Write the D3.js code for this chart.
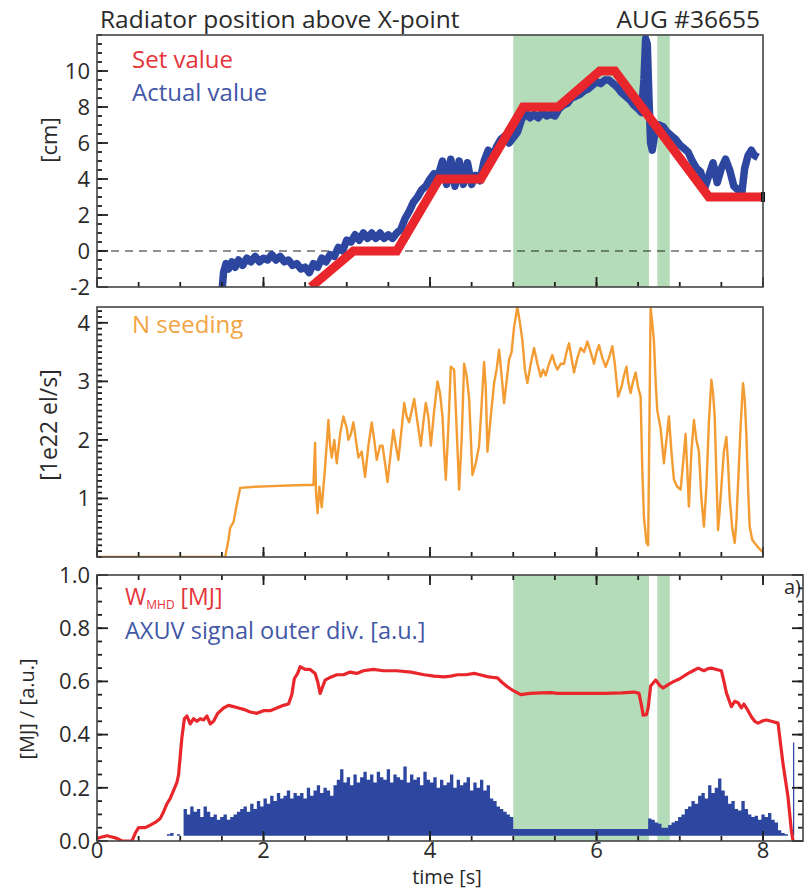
<!DOCTYPE html>
<meta charset="utf-8">

<!-- Load d3.js -->
<script src="https://d3js.org/d3.v7.min.js"></script>

<style>
  body { margin: 0; background: #fff; }
  text { font-family: "Open Sans", sans-serif; }
</style>

<!-- Create a div where the graph will take place -->
<div id="my_dataviz"></div>

<script>

// shaded time windows [start, end] in s
var bandStart = [5.0, 6.73];
var bandEnd = [6.63, 6.88];

// radiator position set value [cm]
var setTime = [2.57, 3.08, 3.60, 4.11, 4.61, 5.12, 5.54, 6.04, 6.22, 7.35, 8.0];
var setValue = [-2, 0, 0, 4, 4, 8, 8, 10, 10, 3, 3];

// radiator position actual value [t, cm]
var actualValue = [
  [1.50,-2.3],[1.52,-1.2],[1.55,-0.7],[1.58,-1.0],[1.62,-0.6],[1.66,-0.9],[1.70,-0.5],[1.75,-0.8],
  [1.80,-0.4],[1.85,-0.6],[1.90,-0.3],[1.95,-0.6],[2.00,-0.4],[2.05,-0.5],[2.10,-0.2],[2.15,-0.5],
  [2.20,-0.3],[2.25,-0.6],[2.30,-0.5],[2.35,-0.8],[2.40,-0.7],[2.45,-1.0],[2.50,-0.9],[2.55,-1.2],
  [2.60,-0.7],[2.65,-0.9],[2.70,-0.4],[2.75,-0.6],[2.80,-0.2],[2.85,-0.3],[2.90,0.2],[2.95,0.0],
  [3.00,0.6],[3.05,0.5],[3.10,0.9],[3.15,0.6],[3.20,1.0],[3.25,0.7],[3.30,1.0],[3.35,0.7],
  [3.40,1.0],[3.45,0.7],[3.50,0.9],[3.55,0.7],[3.60,1.0],[3.65,1.2],[3.70,1.8],[3.75,2.2],
  [3.80,2.7],[3.85,3.0],[3.90,3.4],[3.95,3.6],[4.00,4.0],[4.05,4.3],[4.10,4.2],[4.15,5.0],
  [4.20,3.7],[4.25,5.1],[4.30,3.6],[4.35,5.0],[4.40,3.7],[4.45,4.9],[4.50,3.7],[4.55,4.2],
  [4.60,3.9],[4.65,5.0],[4.70,5.6],[4.75,5.2],[4.80,5.8],[4.85,6.2],[4.90,6.4],[4.95,6.0],
  [5.00,6.3],[5.05,6.6],[5.10,7.3],[5.15,7.7],[5.20,7.4],[5.25,7.6],[5.30,7.4],[5.35,7.7],
  [5.40,7.5],[5.45,7.6],[5.50,7.5],[5.55,7.9],[5.60,8.1],[5.65,8.2],[5.70,8.5],[5.75,8.6],
  [5.80,8.7],[5.85,8.9],[5.90,9.0],[5.95,9.2],[6.00,9.4],[6.05,9.3],[6.10,9.5],[6.15,9.5],
  [6.20,9.3],[6.25,9.1],[6.30,8.8],[6.35,8.6],[6.40,8.4],[6.45,8.1],[6.50,7.9],[6.54,7.7],
  [6.57,9.5],[6.59,11.8],[6.61,11.5],[6.63,8.5],[6.65,6.0],[6.67,5.6],[6.70,6.5],[6.75,7.0],
  [6.80,6.9],[6.85,6.6],[6.90,6.4],[6.95,6.2],[7.00,5.9],[7.05,5.7],[7.10,5.5],[7.15,5.0],
  [7.20,4.6],[7.25,4.4],[7.30,3.5],[7.35,4.2],[7.40,4.9],[7.45,3.8],[7.50,4.6],[7.55,5.1],
  [7.60,4.5],[7.65,3.6],[7.70,3.4],[7.74,3.0],[7.78,4.6],[7.82,5.3],[7.86,5.6],[7.90,5.3],[7.94,5.2]
];

// N seeding rate [t, 1e22 el/s]
var nSeeding = [
  [0,0],[1.54,0],[1.58,0.3],[1.60,0.5],[1.64,0.6],[1.68,0.9],[1.72,1.18],[1.90,1.2],[2.10,1.21],
  [2.30,1.22],[2.50,1.23],[2.60,1.23],[2.61,1.6],[2.62,1.95],[2.63,1.1],[2.65,0.75],[2.67,1.2],
  [2.70,0.85],[2.74,1.54],[2.78,2.34],[2.80,1.9],[2.82,1.7],[2.85,2.0],[2.88,1.6],[2.92,2.1],
  [2.96,2.4],[3.00,2.2],[3.02,2.0],[3.05,2.1],[3.08,2.3],[3.11,2.0],[3.14,1.7],[3.18,1.8],
  [3.22,1.37],[3.26,1.9],[3.30,2.3],[3.33,2.0],[3.36,1.66],[3.40,1.9],[3.43,1.9],[3.46,1.6],
  [3.49,1.28],[3.53,1.8],[3.56,2.17],[3.59,1.9],[3.62,1.66],[3.66,2.2],[3.69,2.63],[3.72,2.4],
  [3.75,2.3],[3.78,2.5],[3.81,2.7],[3.85,2.3],[3.89,1.9],[3.92,2.3],[3.95,2.63],[3.98,2.4],
  [4.01,1.9],[4.05,2.5],[4.09,3.0],[4.12,2.8],[4.15,2.4],[4.17,1.8],[4.19,1.32],[4.22,2.2],
  [4.25,3.25],[4.29,3.2],[4.32,2.2],[4.35,1.15],[4.38,2.0],[4.41,3.3],[4.44,3.1],[4.47,2.7],
  [4.51,1.4],[4.55,1.6],[4.59,1.9],[4.62,2.6],[4.65,3.33],[4.67,2.9],[4.69,1.8],[4.73,2.4],
  [4.77,2.97],[4.80,3.2],[4.83,3.54],[4.86,3.1],[4.89,2.63],[4.92,3.0],[4.95,3.37],[4.98,3.5],
  [5.01,3.93],[5.05,4.27],[5.08,4.0],[5.11,3.7],[5.14,3.2],[5.17,2.97],[5.21,3.3],[5.25,3.57],
  [5.29,3.3],[5.33,3.08],[5.36,3.2],[5.39,3.1],[5.43,3.3],[5.47,3.45],[5.50,3.3],[5.53,3.2],
  [5.57,3.3],[5.61,3.3],[5.64,3.5],[5.67,3.65],[5.70,3.4],[5.73,3.15],[5.77,3.4],[5.81,3.57],
  [5.85,3.5],[5.89,3.68],[5.93,3.5],[5.97,3.3],[6.00,3.5],[6.03,3.62],[6.07,3.4],[6.11,3.25],
  [6.15,3.4],[6.19,3.6],[6.22,3.3],[6.26,2.74],[6.30,2.9],[6.33,3.1],[6.36,3.25],[6.38,3.0],
  [6.41,2.8],[6.44,3.0],[6.47,3.15],[6.50,2.9],[6.53,2.74],[6.55,1.5],[6.57,0.68],[6.60,0.25],
  [6.62,0.2],[6.63,1.5],[6.65,4.25],[6.67,4.0],[6.69,3.7],[6.71,3.0],[6.73,2.5],[6.77,2.2],
  [6.81,1.6],[6.84,2.0],[6.87,2.4],[6.90,1.8],[6.93,1.32],[6.97,1.2],[7.01,1.15],[7.04,1.6],
  [7.07,2.1],[7.09,1.5],[7.11,0.86],[7.14,1.8],[7.17,2.34],[7.20,2.0],[7.23,1.8],[7.26,1.0],
  [7.29,0.52],[7.32,1.2],[7.35,2.3],[7.38,3.03],[7.40,2.8],[7.42,2.4],[7.44,1.4],[7.46,0.46],
  [7.48,0.8],[7.50,1.2],[7.53,1.8],[7.56,2.05],[7.58,1.6],[7.60,1.0],[7.63,0.5],[7.66,0.24],
  [7.68,0.6],[7.70,1.23],[7.73,2.2],[7.76,2.97],[7.78,2.7],[7.80,2.1],[7.82,1.2],[7.84,0.52],
  [7.87,0.3],[7.90,0.24],[7.95,0.15],[8.0,0.08]
];

// stored energy W_MHD [t, MJ]
var wMHD = [
  [0,0.01],[0.06,0.015],[0.12,0.02],[0.18,0.015],[0.24,0.01],[0.30,0.0],[0.42,0.0],[0.46,0.03],
  [0.50,0.05],[0.58,0.05],[0.64,0.06],[0.70,0.07],[0.76,0.085],[0.80,0.11],[0.84,0.14],[0.88,0.16],
  [0.92,0.19],[0.96,0.22],[0.98,0.25],[1.00,0.32],[1.02,0.39],[1.05,0.46],[1.08,0.47],[1.12,0.44],
  [1.16,0.46],[1.20,0.45],[1.24,0.46],[1.28,0.455],[1.32,0.47],[1.36,0.44],[1.40,0.45],[1.45,0.48],
  [1.52,0.50],[1.58,0.51],[1.64,0.505],[1.70,0.50],[1.76,0.495],[1.84,0.485],[1.92,0.48],[2.00,0.49],
  [2.08,0.49],[2.16,0.50],[2.24,0.51],[2.30,0.515],[2.34,0.55],[2.37,0.61],[2.41,0.63],[2.44,0.655],
  [2.50,0.645],[2.56,0.645],[2.62,0.63],[2.65,0.60],[2.68,0.555],[2.71,0.58],[2.74,0.605],[2.80,0.615],
  [2.88,0.625],[2.96,0.625],[3.04,0.635],[3.12,0.63],[3.20,0.64],[3.32,0.645],[3.44,0.64],[3.60,0.64],
  [3.77,0.635],[3.93,0.625],[4.05,0.62],[4.17,0.617],[4.25,0.62],[4.33,0.625],[4.43,0.625],[4.53,0.63],
  [4.60,0.625],[4.69,0.618],[4.75,0.615],[4.81,0.613],[4.87,0.595],[4.93,0.58],[5.00,0.565],[5.09,0.55],
  [5.20,0.555],[5.33,0.557],[5.45,0.558],[5.53,0.555],[5.70,0.555],[5.93,0.555],[6.10,0.555],[6.30,0.557],
  [6.45,0.56],[6.51,0.555],[6.54,0.51],[6.56,0.473],[6.60,0.475],[6.62,0.50],[6.65,0.583],[6.71,0.605],
  [6.76,0.585],[6.80,0.575],[6.87,0.59],[6.93,0.60],[7.00,0.61],[7.10,0.63],[7.16,0.64],[7.22,0.65],
  [7.29,0.64],[7.34,0.648],[7.38,0.65],[7.44,0.645],[7.50,0.64],[7.53,0.60],[7.56,0.557],[7.62,0.505],
  [7.66,0.525],[7.70,0.52],[7.74,0.50],[7.77,0.515],[7.82,0.49],[7.86,0.467],[7.90,0.45],[7.94,0.443],
  [8.00,0.452],[8.04,0.455],[8.10,0.45],[8.18,0.443],[8.24,0.29],[8.30,0.165],[8.34,0.04],[8.36,0.0]
];

// AXUV outer divertor signal [t, a.u.]
var axuvBase = 0.02;
var axuv = [
  [0.80,0.02],[0.84,0.025],[0.88,0.03],[0.92,0.02],[0.96,0.025],[1.00,0.02],
  [1.04,0.12],[1.08,0.10],[1.12,0.13],[1.16,0.11],[1.20,0.12],[1.24,0.09],[1.28,0.13],[1.32,0.11],
  [1.36,0.09],[1.40,0.10],[1.44,0.08],[1.48,0.09],[1.52,0.10],[1.56,0.08],[1.60,0.09],[1.64,0.10],
  [1.68,0.11],[1.72,0.12],[1.76,0.13],[1.80,0.11],[1.84,0.14],[1.88,0.12],[1.92,0.15],[1.96,0.13],
  [2.00,0.16],[2.04,0.14],[2.08,0.17],[2.12,0.15],[2.16,0.18],[2.20,0.16],[2.24,0.17],[2.28,0.19],
  [2.32,0.16],[2.36,0.18],[2.40,0.17],[2.44,0.18],[2.48,0.16],[2.52,0.20],[2.56,0.17],[2.60,0.19],
  [2.64,0.21],[2.68,0.18],[2.72,0.20],[2.76,0.19],[2.80,0.17],[2.84,0.21],[2.88,0.23],[2.92,0.27],
  [2.96,0.22],[3.00,0.24],[3.04,0.21],[3.08,0.25],[3.12,0.22],[3.16,0.24],[3.20,0.26],[3.24,0.23],
  [3.28,0.25],[3.32,0.22],[3.36,0.26],[3.40,0.24],[3.44,0.23],[3.48,0.27],[3.52,0.22],[3.56,0.25],
  [3.60,0.24],[3.64,0.23],[3.68,0.28],[3.72,0.22],[3.76,0.25],[3.80,0.23],[3.84,0.24],[3.88,0.21],
  [3.92,0.26],[3.96,0.23],[4.00,0.22],[4.04,0.24],[4.08,0.20],[4.12,0.23],[4.16,0.21],[4.20,0.22],
  [4.24,0.25],[4.28,0.20],[4.32,0.23],[4.36,0.21],[4.40,0.22],[4.44,0.24],[4.48,0.19],[4.52,0.22],
  [4.56,0.20],[4.60,0.23],[4.64,0.19],[4.68,0.21],[4.72,0.16],[4.76,0.15],[4.80,0.13],[4.84,0.12],
  [4.88,0.11],[4.92,0.10],[4.96,0.09],[5.00,0.045],[5.60,0.045],[6.20,0.045],[6.60,0.045],
  [6.62,0.085],[6.66,0.08],[6.70,0.07],[6.74,0.065],[6.78,0.05],[6.82,0.05],[6.86,0.06],[6.90,0.07],
  [6.94,0.075],[6.98,0.09],[7.02,0.10],[7.06,0.12],[7.10,0.13],[7.14,0.15],[7.18,0.14],[7.22,0.17],
  [7.26,0.18],[7.30,0.16],[7.34,0.21],[7.38,0.18],[7.42,0.20],[7.46,0.235],[7.50,0.19],[7.54,0.17],
  [7.58,0.14],[7.62,0.15],[7.66,0.12],[7.70,0.115],[7.74,0.15],[7.78,0.12],[7.82,0.10],[7.86,0.09],
  [7.90,0.095],[7.94,0.08],[7.98,0.10],[8.02,0.09],[8.06,0.105],[8.10,0.08],[8.14,0.07],[8.18,0.04],
  [8.22,0.03],[8.26,0.025],[8.30,0.02],[8.36,0.37],[8.375,0.02],[8.40,0.02]
];

// tick labels
var timeTicks = [0, 2, 4, 6, 8];
var cmTicks = [-2, 0, 2, 4, 6, 8, 10];
var seedTicks = [1, 2, 3, 4];
var mjTicks = [0, 0.2, 0.4, 0.6, 0.8, 1.0];

// colours
var red = "#e8262b", blue = "#2d469f", orange = "#f39c33", green = "#b5dcb8", ink = "#2a2a2a";

// append the svg object to the body of the page
var svg = d3.select("#my_dataviz")
  .append("svg")
    .attr("width", 804)
    .attr("height", 890);

// X scales (bottom panel runs a bit longer)
var x = d3.scaleLinear().domain([0, 8]).range([97, 763]);
var xB = d3.scaleLinear().domain([0, 8.48]).range([97, 803]);

// Y scales
var yTop = d3.scaleLinear().domain([-2, 12]).range([287, 35]);
var yMid = d3.scaleLinear().domain([0, 4.27]).range([557, 307]);
var yBot = d3.scaleLinear().domain([0, 1]).range([841, 575]);

// clip paths for each panel
function clip(id, xs, ys) {
  svg.append("clipPath").attr("id", id)
    .append("rect")
      .attr("x", xs.range()[0]).attr("y", ys.range()[1])
      .attr("width", xs.range()[1] - xs.range()[0])
      .attr("height", ys.range()[0] - ys.range()[1]);
}
clip("cTop", x, yTop);
clip("cMid", x, yMid);
clip("cBot", xB, yBot);

// shaded windows
function bands(g, xs, ys) {
  g.selectAll(null)
    .data(bandStart)
    .enter()
    .append("rect")
      .attr("x", function(d) { return xs(d); })
      .attr("width", function(d, i) { return xs(bandEnd[i]) - xs(d); })
      .attr("y", ys.range()[1])
      .attr("height", ys.range()[0] - ys.range()[1])
      .attr("fill", green);
}

// layer for the tick marks of the current panel
var tickLayer;

// inward tick marks: side is "bottom", "top", "left" or "right"
function tickMarks(values, scale, side, pos, len) {
  var vertical = (side == "left" || side == "right");
  var dir = (side == "left" || side == "top") ? 1 : -1;
  tickLayer.append("g").selectAll("line")
    .data(values)
    .enter()
    .append("line")
      .attr("x1", function(d) { return vertical ? pos : scale(d); })
      .attr("x2", function(d) { return vertical ? pos + dir * len : scale(d); })
      .attr("y1", function(d) { return vertical ? scale(d) : pos; })
      .attr("y2", function(d) { return vertical ? scale(d) : pos + dir * len; })
      .attr("stroke", "#1e1e1e")
      .attr("stroke-width", 1.8);
}

function fmtInt(d) { return d < 0 ? "-" + Math.abs(d) : "" + d; }

function axes(xs, ys, yMajor, yMinorStep, fmt, opts) {
  var x0 = xs.range()[0], x1 = xs.range()[1], y0 = ys.range()[0], y1 = ys.range()[1];
  var xMinor = d3.range(0, xs.domain()[1] + 0.001, 0.5);
  var yMinor = d3.range(ys.domain()[0], ys.domain()[1] + 0.001, yMinorStep);

  tickLayer = svg.append("g").attr("class", "ticks");
  tickMarks(xMinor, xs, "bottom", y0, 5);
  tickMarks(timeTicks, xs, "bottom", y0, 10);
  tickMarks(yMinor, ys, "left", x0, 5);
  tickMarks(yMajor, ys, "left", x0, 11);
  if (opts.topTicks) {
    tickMarks(xMinor, xs, "top", y1, 5);
    tickMarks(timeTicks, xs, "top", y1, 10);
  }
  if (opts.rightTicks) {
    tickMarks(yMinor, ys, "right", x1, 5);
    tickMarks(yMajor, ys, "right", x1, 11);
  }

  // y tick labels
  svg.append("g").selectAll("text")
    .data(yMajor)
    .enter()
    .append("text")
      .attr("x", x0 - 7)
      .attr("y", function(d) { return ys(d); })
      .attr("dy", "0.35em")
      .attr("text-anchor", "end")
      .attr("fill", ink)
      .style("font-size", "22px")
      .text(fmt);

  if (opts.xLabels) {
    svg.append("g").selectAll("text")
      .data(timeTicks)
      .enter()
      .append("text")
        .attr("x", function(d) { return xs(d); })
        .attr("y", y0 + 17)
        .attr("text-anchor", "middle")
        .attr("fill", ink)
        .style("font-size", "22px")
        .text(fmtInt);
  }

  // frame
  svg.append("rect")
    .attr("x", x0).attr("y", y1)
    .attr("width", x1 - x0).attr("height", y0 - y1)
    .attr("fill", "none").attr("stroke", "#444").attr("stroke-width", 1.6);
}

// ---------------- top panel: radiator position ----------------
var gTop = svg.append("g").attr("clip-path", "url(#cTop)");
bands(gTop, x, yTop);

gTop.append("line")
  .attr("x1", x(0)).attr("x2", x(8))
  .attr("y1", yTop(0)).attr("y2", yTop(0))
  .attr("stroke", "#222").attr("stroke-width", 1.2)
  .attr("stroke-dasharray", "8,6");

gTop.append("path")
  .datum(actualValue)
  .attr("fill", "none")
  .attr("stroke", blue)
  .attr("stroke-width", 7.5)
  .attr("stroke-linejoin", "round")
  .attr("d", d3.line()
    .x(function(d) { return x(d[0]); })
    .y(function(d) { return yTop(d[1]); }));

gTop.append("path")
  .datum(setTime.map(function(t, i) { return [t, setValue[i]]; }))
  .attr("fill", "none")
  .attr("stroke", red)
  .attr("stroke-width", 9)
  .attr("d", d3.line()
    .x(function(d) { return x(d[0]); })
    .y(function(d) { return yTop(d[1]); }));

// small black end marker of the set value trace
svg.append("line")
  .attr("x1", x(8)).attr("x2", x(8))
  .attr("y1", yTop(setValue[setValue.length - 1]) - 5)
  .attr("y2", yTop(setValue[setValue.length - 1]) + 5)
  .attr("stroke", "#111").attr("stroke-width", 4);

axes(x, yTop, cmTicks, 0.5, fmtInt, {});

// ---------------- middle panel: N seeding ----------------
var gMid = svg.append("g").attr("clip-path", "url(#cMid)");
gMid.append("path")
  .datum(nSeeding)
  .attr("fill", "none")
  .attr("stroke", orange)
  .attr("stroke-width", 2.4)
  .attr("stroke-linejoin", "round")
  .attr("d", d3.line()
    .x(function(d) { return x(d[0]); })
    .y(function(d) { return yMid(d[1]); }));

axes(x, yMid, seedTicks, 0.1, fmtInt, {});

// ---------------- bottom panel: W_MHD and AXUV ----------------
var gBot = svg.append("g").attr("clip-path", "url(#cBot)");
bands(gBot, xB, yBot);

gBot.append("path")
  .datum(axuv)
  .attr("fill", blue)
  .attr("d", d3.area()
    .curve(d3.curveStepAfter)
    .x(function(d) { return xB(d[0]); })
    .y0(yBot(axuvBase))
    .y1(function(d) { return yBot(d[1]); }));

gBot.append("path")
  .datum(wMHD)
  .attr("fill", "none")
  .attr("stroke", red)
  .attr("stroke-width", 3.2)
  .attr("stroke-linejoin", "round")
  .attr("d", d3.line()
    .x(function(d) { return xB(d[0]); })
    .y(function(d) { return yBot(d[1]); }));

axes(xB, yBot, mjTicks, 0.05, d3.format(".1f"),
  {xLabels: true, topTicks: true, rightTicks: true});

// ---------------- texts ----------------
function label(txt, px, py, size, color, anchor) {
  return svg.append("text")
    .attr("x", px).attr("y", py)
    .attr("text-anchor", anchor || "start")
    .attr("fill", color)
    .style("font-size", size + "px")
    .text(txt);
}

label("Radiator position above X-point", 100, 28, 24.5, ink);
label("AUG #36655", 760, 28, 24.5, ink, "end");
label("Set value", 132, 68, 24, "#e5343a");
label("Actual value", 132, 101, 24, "#4257a6");
label("N seeding", 132, 333, 24, "#f2a443");

var w = label("W", 125, 605, 23, "#e5343a");
w.append("tspan").attr("dy", 4).style("font-size", "12px").text("MHD");
w.append("tspan").attr("dy", -4).text(" [MJ]");
label("AXUV signal outer div. [a.u.]", 125, 639, 23.5, "#4257a6");
label("a)", 801, 594, 20, ink, "end");

label("time [s]", 447, 884, 20, ink, "middle");

function ylabel(txt, px, py, size) {
  svg.append("text")
    .attr("transform", "translate(" + px + "," + py + ") rotate(-90)")
    .attr("text-anchor", "middle")
    .attr("dominant-baseline", "central")
    .attr("fill", ink)
    .style("font-size", size + "px")
    .text(txt);
}
ylabel("[cm]", 48, 140, 22);
ylabel("[1e22 el/s]", 48, 425, 23);
ylabel("[MJ] / [a.u.]", 26, 709, 20);

</script>
